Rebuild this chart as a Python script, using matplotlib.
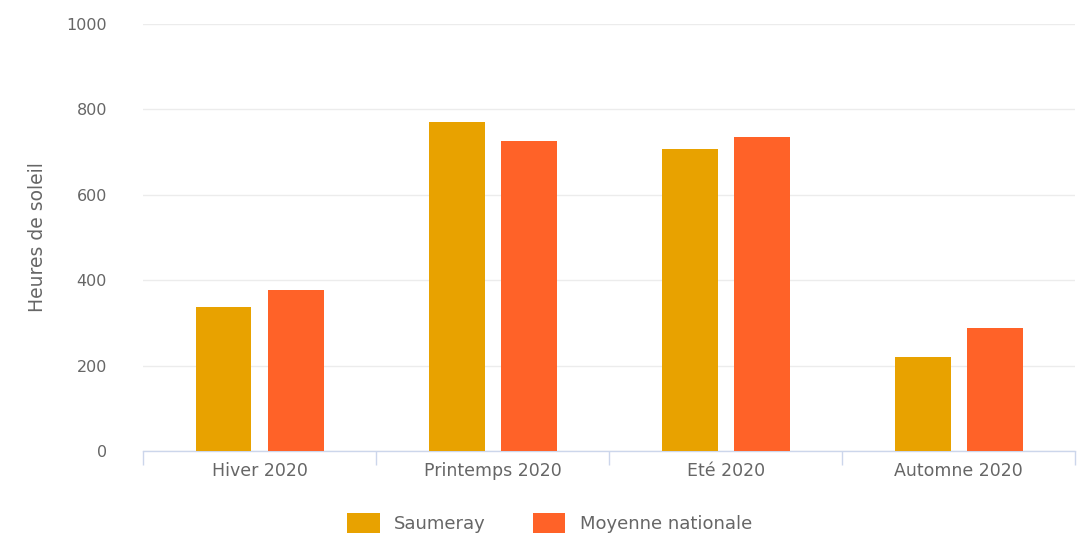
import matplotlib.pyplot as plt
import numpy as np

# Données
saisons = ["Hiver 2020", "Printemps 2020", "Eté 2020", "Automne 2020"]
saumeray = [338, 771, 708, 221]
moyenne_nationale = [377, 725, 736, 289]
yticks = [0, 200, 400, 600, 800, 1000]

couleur_saumeray = "#e8a200"
couleur_moyenne = "#ff6228"
texte = "#666666"

plt.rcParams["font.family"] = ["DejaVu Sans"]

fig = plt.figure(figsize=(10.84, 5.42), dpi=100)
ax = fig.add_axes([0.132, 0.168, 0.860, 0.788])

x = np.arange(len(saisons))
largeur = 0.24
ecart = 0.155
ax.bar(x - ecart, saumeray, largeur, color=couleur_saumeray, label="Saumeray", zorder=3)
ax.bar(x + ecart, moyenne_nationale, largeur, color=couleur_moyenne, label="Moyenne nationale", zorder=3)

ax.set_xlim(-0.5, len(saisons) - 0.5)
ax.set_ylim(0, 1000)
ax.set_yticks(yticks)
ax.set_yticklabels([str(v) for v in yticks])
ax.set_xticks(x)
ax.set_xticklabels(saisons)
ax.set_xticks(np.arange(len(saisons) + 1) - 0.5, minor=True)

# Grille et axes
ax.grid(axis="y", color="#ececec", linewidth=1, zorder=0)
for side in ["left", "right", "top"]:
    ax.spines[side].set_visible(False)
ax.spines["bottom"].set_color("#ccd6eb")
ax.spines["bottom"].set_linewidth(1)

ax.tick_params(axis="y", length=0, pad=26, labelsize=11.5, labelcolor=texte)
ax.tick_params(axis="x", which="major", length=0, pad=8, labelsize=12.5, labelcolor=texte)
ax.tick_params(axis="x", which="minor", length=10, color="#ccd6eb", width=1)

ax.set_ylabel("Heures de soleil", fontsize=13.5, color=texte, labelpad=14)

fig.legend(loc="center", bbox_to_anchor=(0.507, 0.035), ncol=2, frameon=False,
           fontsize=13, labelcolor=texte, handlelength=1.8, handleheight=1.3,
           columnspacing=2.6, handletextpad=0.8)

fig.savefig("out.png", dpi=100)
